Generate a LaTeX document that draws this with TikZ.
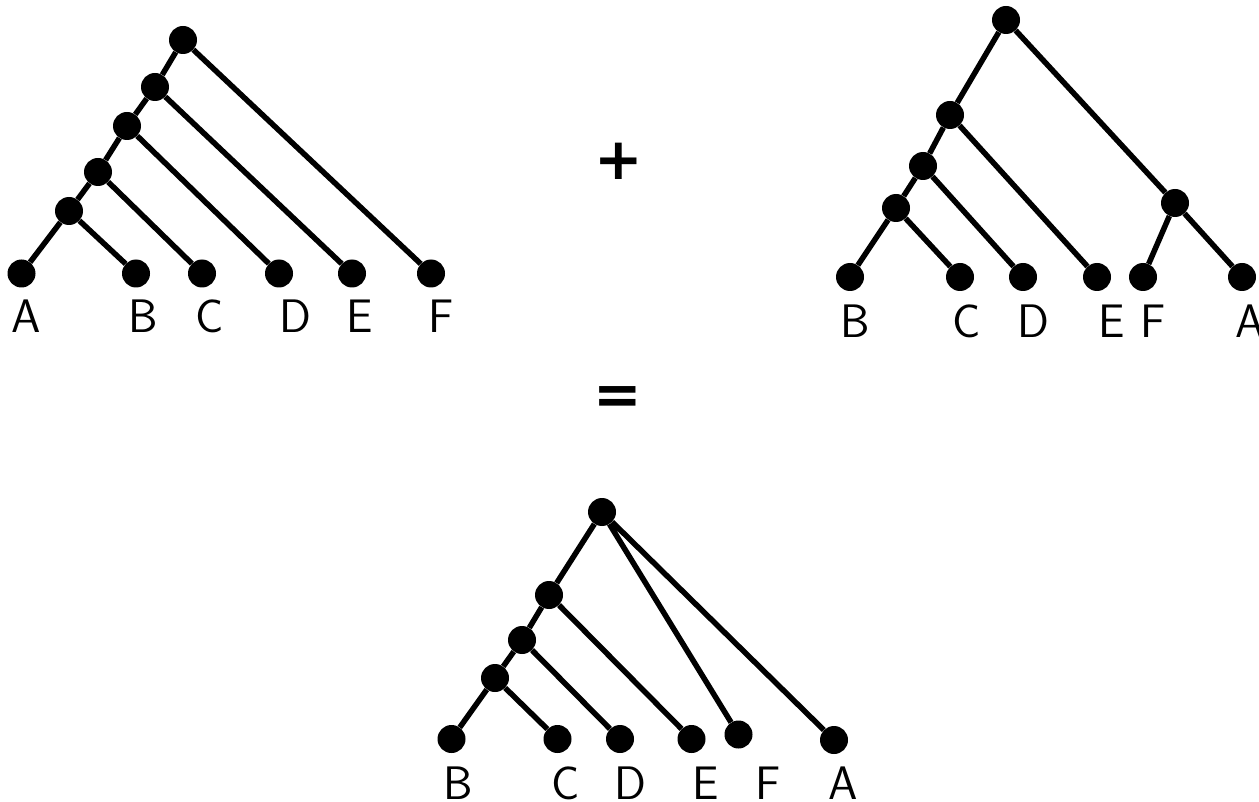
\documentclass[tikz,border=0pt]{standalone}
\usepackage{fontspec}
\newfontfamily\symfnt{DejaVu Sans}
\tikzset{
  dot/.style={circle,fill=black,inner sep=0pt,minimum size=28pt},
  edge/.style={line width=5.5pt,black},
  lab/.style={anchor=base,inner sep=0pt,font=\sffamily\fontsize{47}{56}\selectfont},
  sym/.style={inner sep=0pt,font=\symfnt\bfseries\fontsize{58}{66}\selectfont}
}
\begin{document}
\begin{tikzpicture}[x=1pt,y=-1pt]
\useasboundingbox (0,0) rectangle (1259,802);
% ---- top-left tree
\node[dot] (L0) at (183,40) {};
\node[dot] (L1) at (155,87) {};
\node[dot] (L2) at (127,126) {};
\node[dot] (L3) at (98,172) {};
\node[dot] (L4) at (69,211) {};
\node[dot] (LA) at (21.5,273.5) {};
\node[dot] (LB) at (136,273.5) {};
\node[dot] (LC) at (202,273.5) {};
\node[dot] (LD) at (279,273.5) {};
\node[dot] (LE) at (352,273.5) {};
\node[dot] (LF) at (431,273.5) {};
\draw[edge] (L0) -- (L1) (L1) -- (L2) (L2) -- (L3) (L3) -- (L4)
  (L4) -- (LA) (L4) -- (LB) (L3) -- (LC) (L2) -- (LD) (L1) -- (LE) (L0) -- (LF);
\node[lab] (tA) at (26,333) {A};
\node[lab] (tB) at (143,333) {B};
\node[lab] (tC) at (210,333) {C};
\node[lab] (tD) at (295,333) {D};
\node[lab] (tE) at (360,333) {E};
\node[lab] (tF) at (441,333) {F};
% ---- plus
\node[sym] (plus) at (619,161) {+};
% ---- top-right tree
\node[dot] (R0) at (1006,20) {};
\node[dot] (R1) at (950,115) {};
\node[dot] (R2) at (923,166) {};
\node[dot] (R3) at (896,208) {};
\node[dot] (R4) at (1175,203) {};
\node[dot] (RB) at (850,277) {};
\node[dot] (RC) at (960,277) {};
\node[dot] (RD) at (1023,277) {};
\node[dot] (RE) at (1097,277) {};
\node[dot] (RF) at (1143,277) {};
\node[dot] (RA) at (1242,277) {};
\draw[edge] (R0) -- (R1) (R1) -- (R2) (R2) -- (R3)
  (R3) -- (RB) (R3) -- (RC) (R2) -- (RD) (R1) -- (RE)
  (R0) -- (R4) (R4) -- (RF) (R4) -- (RA);
\node[lab] (uB) at (855,338) {B};
\node[lab] (uC) at (967,338) {C};
\node[lab] (uD) at (1033,338) {D};
\node[lab] (uE) at (1112,338) {E};
\node[lab] (uF) at (1153,338) {F};
\node[lab] (uA) at (1250,338) {A};
% ---- equals
\node[sym] (eq) at (617.5,401) {=};
% ---- bottom tree
\node[dot] (B0) at (602,512) {};
\node[dot] (B1) at (549,595) {};
\node[dot] (B2) at (522,640) {};
\node[dot] (B3) at (495,678) {};
\node[dot] (BB) at (451.5,739) {};
\node[dot] (BC) at (557.5,739) {};
\node[dot] (BD) at (620,739) {};
\node[dot] (BE) at (691.5,739) {};
\node[dot] (BF) at (738.5,734.5) {};
\node[dot] (BA) at (834,740) {};
\draw[edge] (B0) -- (B1) (B1) -- (B2) (B2) -- (B3)
  (B3) -- (BB) (B3) -- (BC) (B2) -- (BD) (B1) -- (BE)
  (B0) -- (BF) (B0) -- (BA);
\node[lab] (vB) at (458,799) {B};
\node[lab] (vC) at (566,799) {C};
\node[lab] (vD) at (630,799) {D};
\node[lab] (vE) at (706,799) {E};
\node[lab] (vF) at (768,799) {F};
\node[lab] (vA) at (843,799) {A};
\end{tikzpicture}
\end{document}
